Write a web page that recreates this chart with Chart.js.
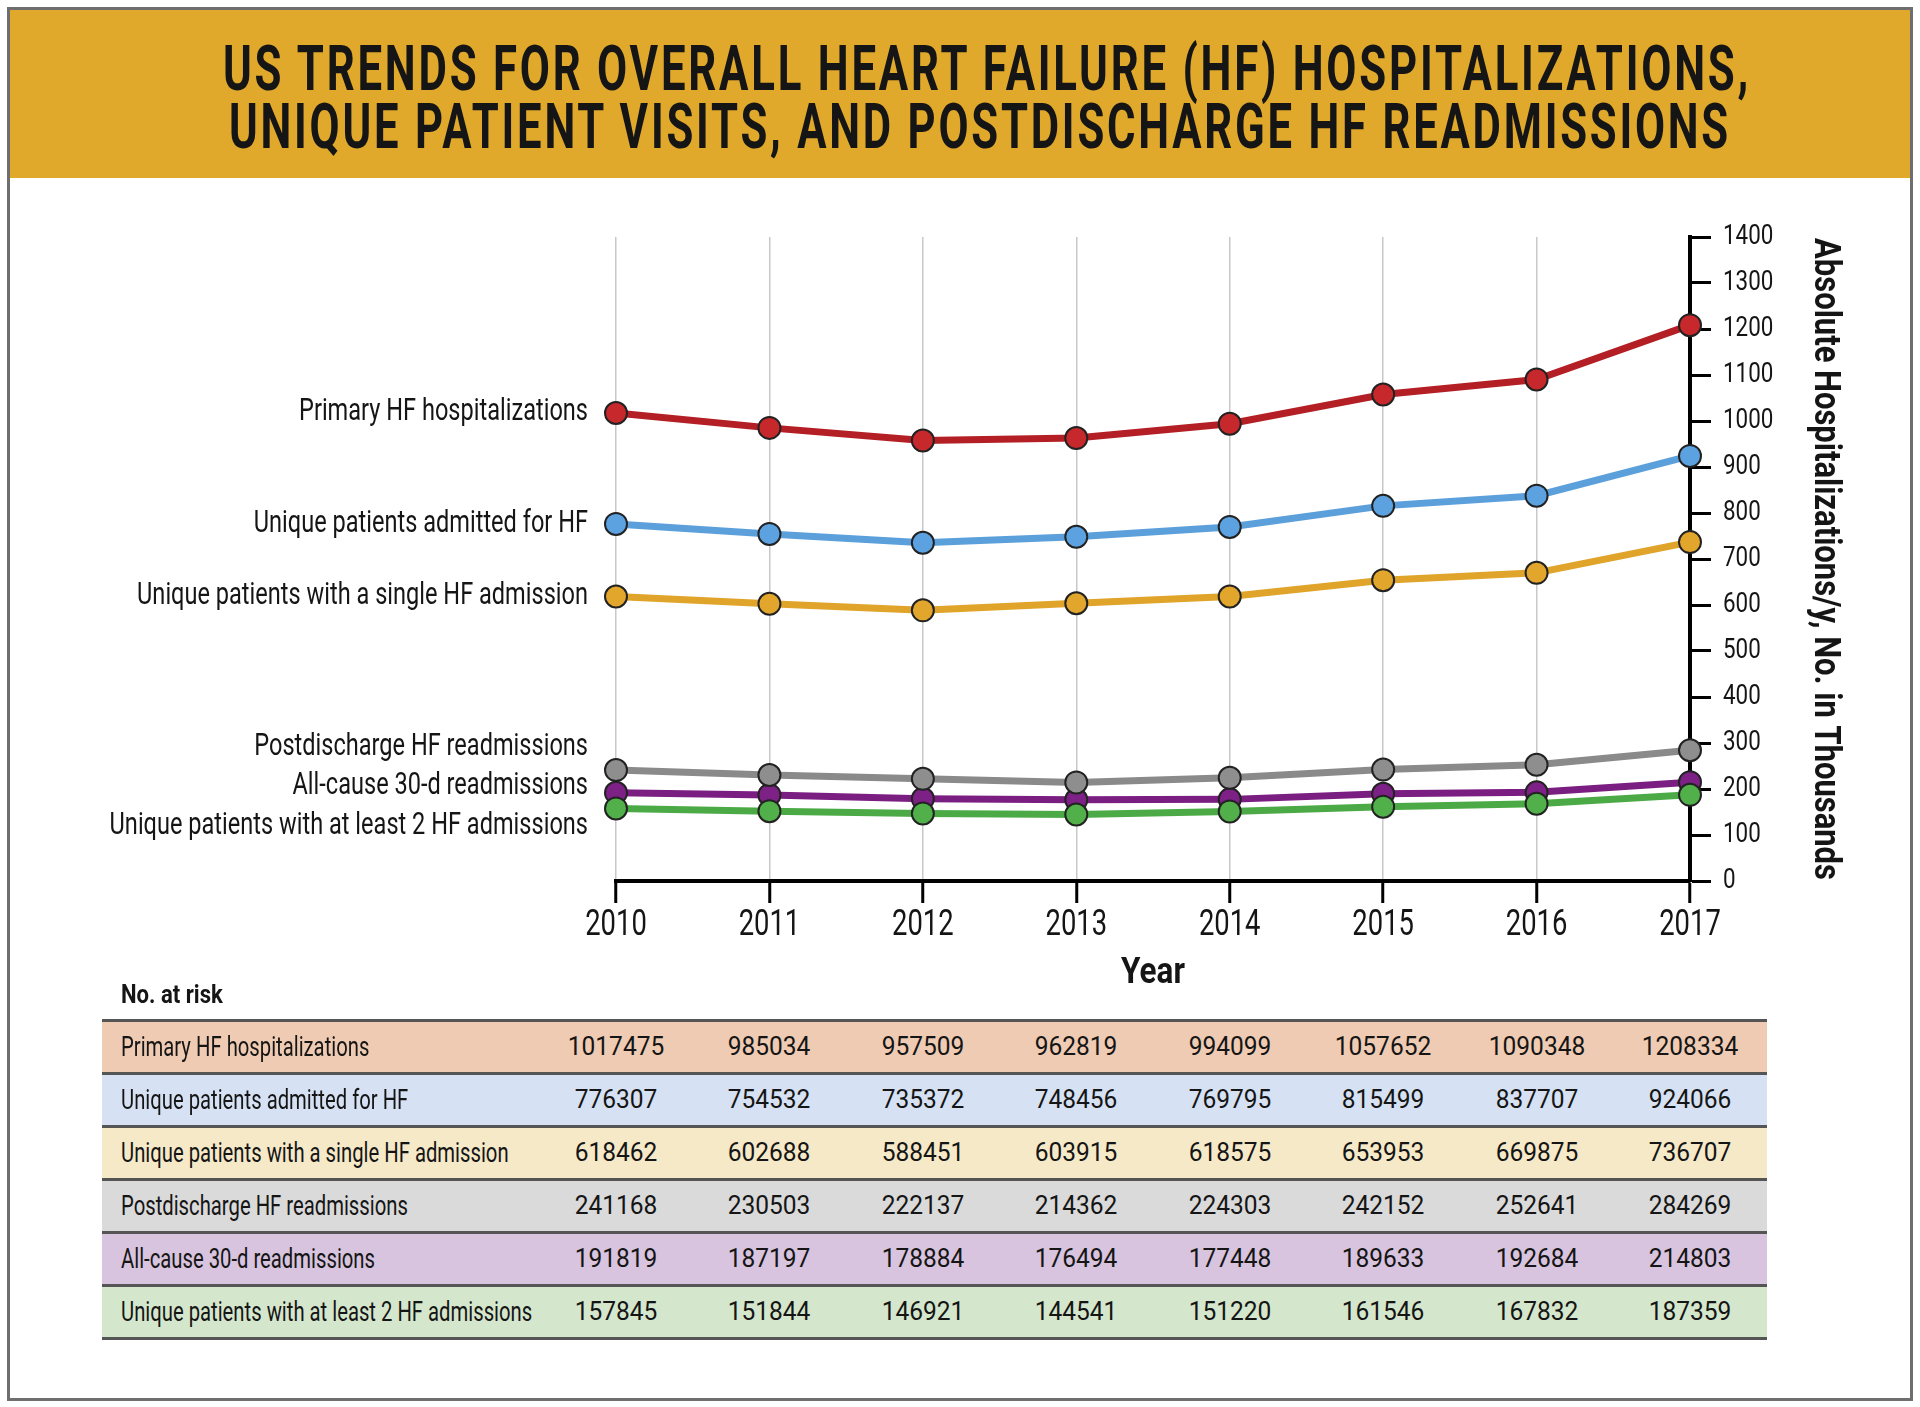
<!DOCTYPE html>
<html lang="en">
<head>
  <meta charset="UTF-8">
  <title>US trends for overall HF hospitalizations</title>
  <script src="https://cdn.jsdelivr.net/npm/chart.js"></script>
  <style>
    body { margin: 0; background: #fff; font-family: Roboto, sans-serif; color: #151515; }
    #frame { position: absolute; left: 7px; top: 7px; width: 1900px; height: 1388px; border: 3px solid #6e6e6e; }
    #title { position: absolute; left: 10px; top: 10px; width: 1900px; height: 168px; background: #e1a92c;
             font-weight: bold; font-size: 63px; line-height: 58px; letter-spacing: 4px; }
    #title span { position: absolute; white-space: nowrap; transform-origin: center center; }
    .sq { display: inline-block; white-space: nowrap; }
    #chartBox { position: absolute; left: 10px; top: 178px; }
    #riskTitle { position: absolute; left: 121px; top: 979px; line-height: 30px; font-weight: bold; font-size: 26px; }
    .row { position: absolute; left: 102px; width: 1665px; height: 50px; border-top: 3px solid #555; }
    .row span { position: absolute; top: 0; line-height: 50px; white-space: nowrap; }
    .row .name { left: 19px; font-size: 27px; transform: scaleX(0.75); transform-origin: left center; }
    .row .num { font-size: 25px; transform: translateX(-50%) scaleX(0.98); transform-origin: center center; }
  </style>
</head>
<body>
  <div id="frame"></div>
  <div id="title">
    <span data-w="1528" style="left:977px;top:30px">US TRENDS FOR OVERALL HEART FAILURE (HF) HOSPITALIZATIONS,</span>
    <span data-w="1502" style="left:970px;top:88px">UNIQUE PATIENT VISITS, AND POSTDISCHARGE HF READMISSIONS</span>
  </div>
  <div id="chartBox"><canvas id="hfChart" width="1900" height="822"></canvas></div>
  <div id="riskTitle"><span class="sq" style="transform:scaleX(0.85);transform-origin:left center">No. at risk</span></div>
  <div id="table"></div>

  <script>
    const fontFamily = 'Roboto, sans-serif';

    const years = ['2010', '2011', '2012', '2013', '2014', '2015', '2016', '2017'];

    const seriesNames = [
      'Primary HF hospitalizations',
      'Unique patients admitted for HF',
      'Unique patients with a single HF admission',
      'Postdischarge HF readmissions',
      'All-cause 30-d readmissions',
      'Unique patients with at least 2 HF admissions'
    ];

    const primaryHF = [1017475, 985034, 957509, 962819, 994099, 1057652, 1090348, 1208334];
    const uniqueAdmitted = [776307, 754532, 735372, 748456, 769795, 815499, 837707, 924066];
    const singleAdmission = [618462, 602688, 588451, 603915, 618575, 653953, 669875, 736707];
    const postdischarge = [241168, 230503, 222137, 214362, 224303, 242152, 252641, 284269];
    const allCause30d = [191819, 187197, 178884, 176494, 177448, 189633, 192684, 214803];
    const atLeast2 = [157845, 151844, 146921, 144541, 151220, 161546, 167832, 187359];

    const allSeries = [primaryHF, uniqueAdmitted, singleAdmission, postdischarge, allCause30d, atLeast2];

    // where the left-hand series names sit, in thousands on the y axis
    const labelAnchors = [1018, 776, 618, 290, 205, 118];

    const lineColors = ['#b31f24', '#5b9fdb', '#dfa429', '#8a8a8a', '#7a1e82', '#4caa46'];
    const pointColors = ['#c7282b', '#5ca2e0', '#e2a62c', '#8e8e8e', '#7e2186', '#52b04a'];
    const rowColors = ['#efcbb3', '#d6e2f3', '#f6e9c8', '#dadada', '#d8c4de', '#d4e7cc'];

    // no condensed face is installed, so canvas text is squeezed horizontally
    const squeeze = { '37': 0.74, '28': 0.8, '31': 0.76, 'bold 36': 0.86, 'bold 37': 0.85 };
    function squeezeFor(font) {
      const bold = /bold|700/.test(font) ? 'bold ' : '';
      const m = font.match(/([\d.]+)px/);
      return squeeze[bold + (m ? Math.round(+m[1]) : '')] || 1;
    }
    const condense = {
      id: 'condense',
      beforeInit(chart) {
        const c = chart.ctx;
        const fill = c.fillText.bind(c);
        c.fillText = function (text, x, y) {
          const k = squeezeFor(c.font);
          c.save();
          c.translate(x, y);
          c.scale(k, 1);
          fill(text, 0, 0);
          c.restore();
        };
      }
    };

    const seriesLabels = {
      id: 'seriesLabels',
      afterDraw(chart) {
        const { ctx, chartArea, scales } = chart;
        ctx.save();
        ctx.font = '31px ' + fontFamily;
        ctx.fillStyle = '#151515';
        ctx.textAlign = 'right';
        ctx.textBaseline = 'middle';
        seriesNames.forEach((name, i) => {
          ctx.fillText(name, chartArea.left - 28, scales.y.getPixelForValue(labelAnchors[i]));
        });
        ctx.restore();
      }
    };

    const ctx = document.getElementById('hfChart').getContext('2d');
    const chart = new Chart(ctx, {
      type: 'line',
      data: {
        labels: years,
        datasets: allSeries.map((s, i) => ({
          label: seriesNames[i],
          data: s.map(v => v / 1000),
          borderColor: lineColors[i],
          borderWidth: 7,
          backgroundColor: pointColors[i],
          pointBackgroundColor: pointColors[i],
          pointBorderColor: '#222',
          pointBorderWidth: 2,
          pointRadius: 11,
          fill: false,
          tension: 0,
          order: i === 4 ? 1 : 0
        }))
      },
      options: {
        responsive: false,
        animation: false,
        layout: { padding: { left: 606, top: 59, right: 0, bottom: 0 } },
        plugins: { legend: { display: false }, tooltip: { enabled: false } },
        scales: {
          x: {
            type: 'category',
            offset: false,
            grid: { color: '#c8c8c8', lineWidth: 1.5, tickLength: 22, tickColor: '#000', tickWidth: 3 },
            border: { display: true, color: '#000', width: 4 },
            ticks: { font: { size: 37, family: fontFamily }, color: '#151515', padding: 1, maxRotation: 0, autoSkip: false },
            title: { display: true, text: 'Year', color: '#151515', font: { size: 37, weight: 'bold', family: fontFamily }, padding: { top: 0, bottom: 4 } },
            afterFit: s => { s.height = 119; }
          },
          y: {
            position: 'right',
            min: 0,
            max: 1400,
            grid: { drawOnChartArea: false, tickLength: 21, tickColor: '#000', tickWidth: 3 },
            border: { display: true, color: '#000', width: 4 },
            ticks: { stepSize: 100, font: { size: 28, family: fontFamily }, color: '#151515', padding: 12, callback: v => String(v) },
            title: { display: true, text: 'Absolute Hospitalizations/y, No. in Thousands', color: '#151515', font: { size: 36, weight: 'bold', family: fontFamily }, padding: { top: 64, bottom: 0 } },
            afterFit: s => { s.width = 220; }
          }
        }
      },
      plugins: [condense, seriesLabels]
    });

    // title lines are squeezed to the width they have in the original, centred on their anchor
    document.querySelectorAll('#title span').forEach(el => {
      const w = el.getBoundingClientRect().width;
      el.style.transform = `translateX(-50%) scaleX(${el.dataset.w / w})`;
    });

    // "No. at risk" table, columns centred under the x axis years
    const table = document.getElementById('table');
    const boxLeft = 10, rowTop = 1019, rowH = 53;
    allSeries.forEach((s, r) => {
      const row = document.createElement('div');
      row.className = 'row';
      row.style.top = (rowTop + r * rowH) + 'px';
      row.style.background = rowColors[r];
      let html = `<span class="name">${seriesNames[r]}</span>`;
      s.forEach((v, i) => {
        const x = boxLeft + chart.scales.x.getPixelForValue(i) - 102;
        html += `<span class="num" style="left:${x}px">${v}</span>`;
      });
      row.innerHTML = html;
      table.appendChild(row);
    });
    const last = document.createElement('div');
    last.className = 'row';
    last.style.top = (rowTop + allSeries.length * rowH) + 'px';
    last.style.height = '0px';
    table.appendChild(last);
  </script>
</body>
</html>
